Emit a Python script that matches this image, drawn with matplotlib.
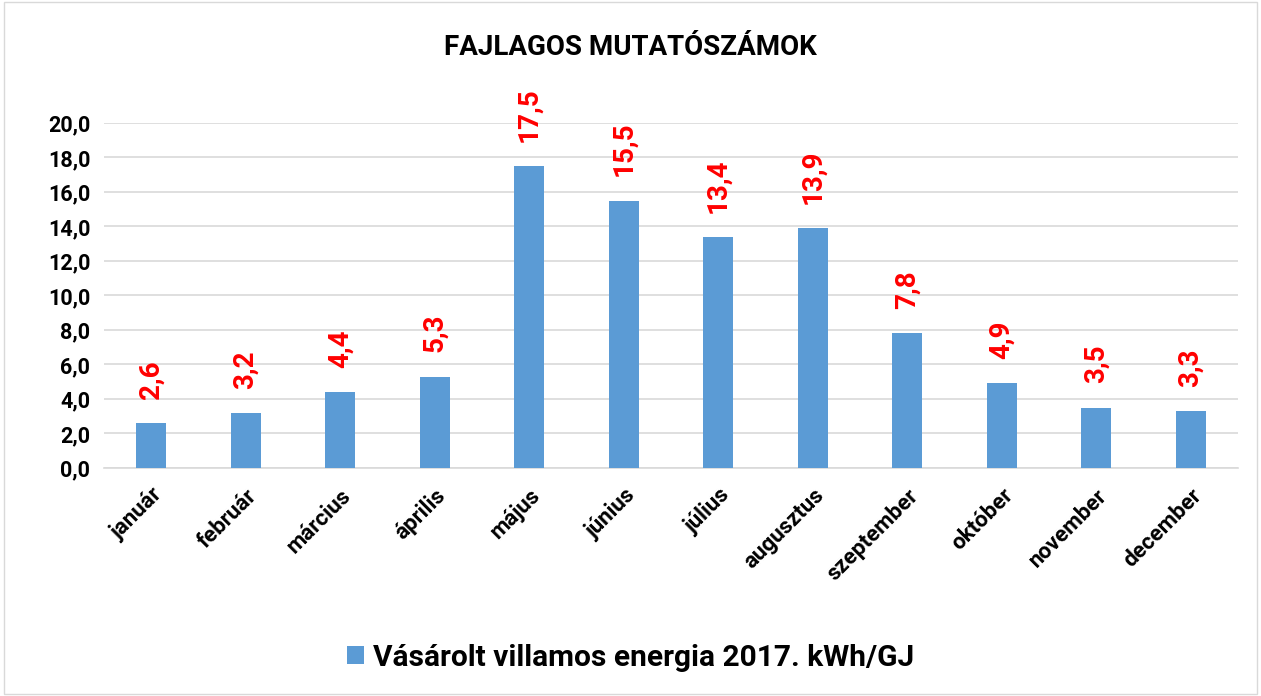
import matplotlib.pyplot as plt
import numpy as np
from matplotlib.patches import Rectangle
from matplotlib.transforms import ScaledTranslation

plt.rcParams['font.family'] = ['Roboto', 'DejaVu Sans']
plt.rcParams['font.weight'] = 'bold'

months = ['január', 'február', 'március', 'április', 'május', 'június',
          'július', 'augusztus', 'szeptember', 'október', 'november', 'december']
values = [2.6, 3.2, 4.4, 5.3, 17.5, 15.5, 13.4, 13.9, 7.8, 4.9, 3.5, 3.3]
series_name = 'Vásárolt villamos energia 2017. kWh/GJ'

fig = plt.figure(figsize=(12.61, 6.96), dpi=100)
ax = fig.add_axes([0.0825, 0.3276, 0.8992, 0.4957])

x = np.arange(len(months))
ax.bar(x, values, width=0.32, color='#5B9BD5', label=series_name, zorder=3)

for xi, v in zip(x, values):
    ax.text(xi, v + 1.4, f'{v:.1f}'.replace('.', ','), rotation=90, color='#FF0000',
            ha='center', va='bottom', fontsize=20, fontweight='bold')

ax.set_xlim(-0.5, len(months) - 0.5)
ax.set_ylim(0, 20)
ax.set_yticks(np.arange(0, 21, 2))
ax.set_yticklabels([f'{t:.1f}'.replace('.', ',') for t in np.arange(0, 21, 2)],
                   fontsize=15.5, fontweight='bold')
ax.set_xticks(x)
ax.set_xticklabels(months, rotation=45, ha='right', rotation_mode='anchor',
                   fontsize=16, fontweight='bold')
shift = ScaledTranslation(-8 / 100, 0, fig.dpi_scale_trans)
for lbl in ax.get_xticklabels():
    lbl.set_transform(lbl.get_transform() + shift)
ax.tick_params(axis='y', length=0, pad=10)
ax.tick_params(axis='x', length=0, pad=12)
ax.grid(axis='y', color='#D9D9D9', linewidth=1.2, zorder=0)
for s in ['top', 'right', 'left']:
    ax.spines[s].set_visible(False)
ax.spines['bottom'].set_color('#D9D9D9')
ax.spines['bottom'].set_linewidth(1.2)

fig.text(0.5, 0.932, 'FAJLAGOS MUTATÓSZÁMOK', ha='center', va='center',
         fontsize=20, fontweight='bold')

fig.legend(loc='center', bbox_to_anchor=(0.5, 0.055), frameon=False,
           prop={'size': 21.5, 'weight': 'bold'}, handlelength=0.55, handleheight=0.55,
           handletextpad=0.3)

fig.patches.append(Rectangle((0.003, 0.003), 0.994, 0.994, transform=fig.transFigure,
                             fill=False, edgecolor='#D9D9D9', linewidth=1))

fig.savefig('out.png', dpi=100)
